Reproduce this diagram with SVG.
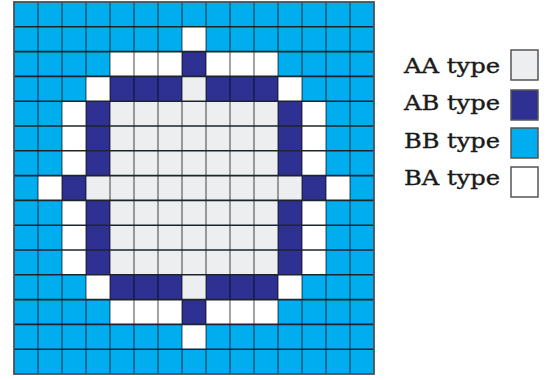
<svg xmlns="http://www.w3.org/2000/svg" width="550" height="380" viewBox="0 0 550 380">
<style>
.bb{fill:#00AEEF}
.ab{fill:#2E3192}
.aa{fill:#EDEEF0}
.ba{fill:#FFFFFF}
.vl{stroke:#000;stroke-opacity:0.45;stroke-width:1.6;fill:none}
.hl{stroke:#1c252c;stroke-width:1.6;fill:none}
.lbl{font-family:"DejaVu Serif","Liberation Serif",serif;font-size:21px;fill:#1a1a1a;stroke:#1a1a1a;stroke-width:0.4}
.box{stroke:#555;stroke-width:1.5}
</style>
<rect width="550" height="380" fill="#fff"/>
<g id="grid">
<rect class="bb" x="14" y="2" width="360" height="372"/>
<rect class="aa" x="110" y="101.2" width="168" height="173.6"/>
<rect class="aa" x="86" y="175.6" width="216" height="24.8"/>
<rect class="aa" x="182" y="76.4" width="24" height="24.8"/>
<rect class="aa" x="182" y="274.8" width="24" height="24.8"/>
<rect class="ab" x="182" y="51.6" width="24" height="24.8"/>
<rect class="ab" x="182" y="299.6" width="24" height="24.8"/>
<rect class="ab" x="110" y="76.4" width="72" height="24.8"/>
<rect class="ab" x="206" y="76.4" width="72" height="24.8"/>
<rect class="ab" x="110" y="274.8" width="72" height="24.8"/>
<rect class="ab" x="206" y="274.8" width="72" height="24.8"/>
<rect class="ab" x="86" y="101.2" width="24" height="74.4"/>
<rect class="ab" x="86" y="200.4" width="24" height="74.4"/>
<rect class="ab" x="278" y="101.2" width="24" height="74.4"/>
<rect class="ab" x="278" y="200.4" width="24" height="74.4"/>
<rect class="ab" x="62" y="175.6" width="24" height="24.8"/>
<rect class="ab" x="302" y="175.6" width="24" height="24.8"/>
<rect class="ba" x="182" y="26.8" width="24" height="24.8"/>
<rect class="ba" x="182" y="324.4" width="24" height="24.8"/>
<rect class="ba" x="110" y="51.6" width="72" height="24.8"/>
<rect class="ba" x="206" y="51.6" width="72" height="24.8"/>
<rect class="ba" x="110" y="299.6" width="72" height="24.8"/>
<rect class="ba" x="206" y="299.6" width="72" height="24.8"/>
<rect class="ba" x="86" y="76.4" width="24" height="24.8"/>
<rect class="ba" x="278" y="76.4" width="24" height="24.8"/>
<rect class="ba" x="86" y="274.8" width="24" height="24.8"/>
<rect class="ba" x="278" y="274.8" width="24" height="24.8"/>
<rect class="ba" x="62" y="101.2" width="24" height="74.4"/>
<rect class="ba" x="62" y="200.4" width="24" height="74.4"/>
<rect class="ba" x="302" y="101.2" width="24" height="74.4"/>
<rect class="ba" x="302" y="200.4" width="24" height="74.4"/>
<rect class="ba" x="38" y="175.6" width="24" height="24.8"/>
<rect class="ba" x="326" y="175.6" width="24" height="24.8"/>
<path class="vl" d="M38 2V374M62 2V374M86 2V374M110 2V374M134 2V374M158 2V374M182 2V374M206 2V374M230 2V374M254 2V374M278 2V374M302 2V374M326 2V374M350 2V374"/>
<path class="hl" d="M14 26.8H374M14 51.6H374M14 76.4H374M14 101.2H374M14 126H374M14 150.8H374M14 175.6H374M14 200.4H374M14 225.2H374M14 250H374M14 274.8H374M14 299.6H374M14 324.4H374M14 349.2H374"/>
<rect x="14" y="2" width="360" height="372" fill="none" stroke="#4a5258" stroke-width="1.8"/>
</g>
<g id="legend-aa">
<text class="lbl" x="404" y="73" textLength="96" lengthAdjust="spacingAndGlyphs">AA type</text>
<rect class="aa box" x="511" y="50" width="27" height="30"/>
</g>
<g id="legend-ab">
<text class="lbl" x="404" y="110" textLength="96" lengthAdjust="spacingAndGlyphs">AB type</text>
<rect class="ab box" x="511" y="90" width="27" height="30"/>
</g>
<g id="legend-bb">
<text class="lbl" x="404" y="148" textLength="96" lengthAdjust="spacingAndGlyphs">BB type</text>
<rect class="bb box" x="511" y="128" width="27" height="30"/>
</g>
<g id="legend-ba">
<text class="lbl" x="404" y="185" textLength="96" lengthAdjust="spacingAndGlyphs">BA type</text>
<rect class="ba box" x="511" y="167" width="27" height="30"/>
</g>
</svg>
